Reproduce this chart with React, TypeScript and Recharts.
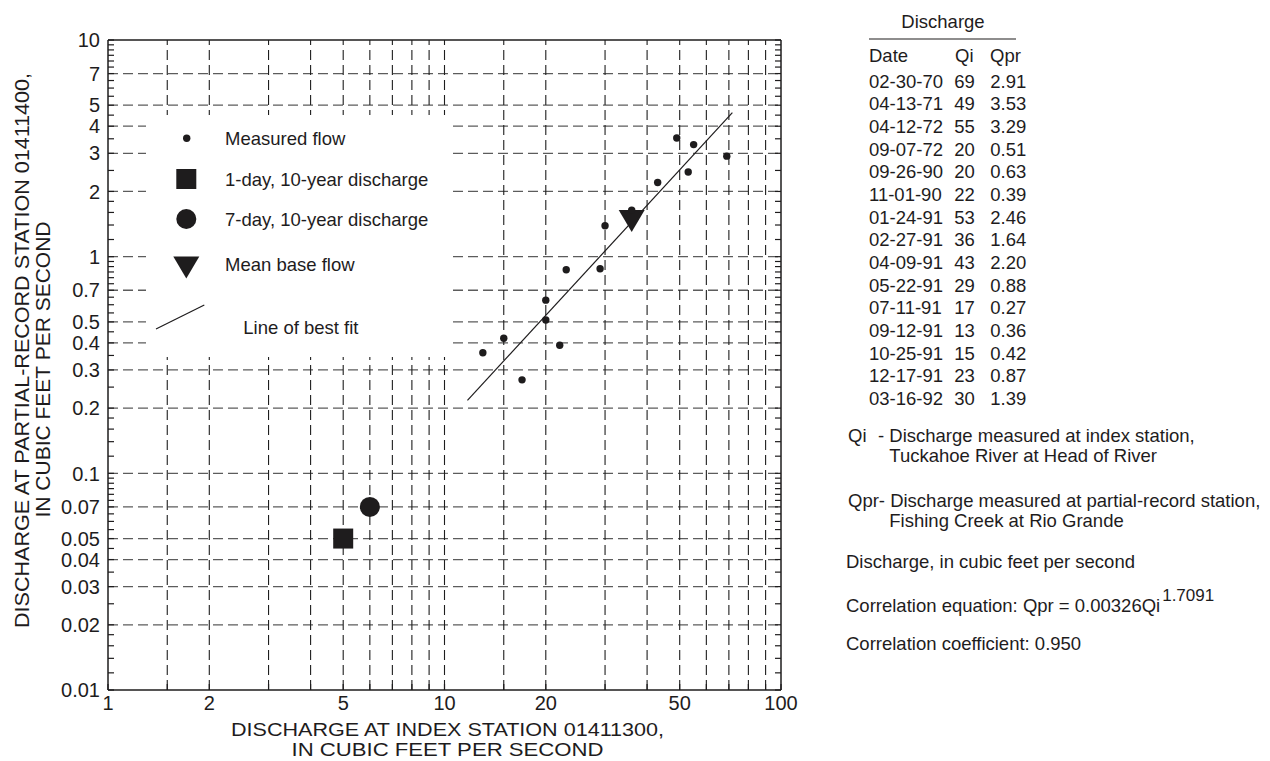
import React from 'react';
import { ScatterChart, Scatter, XAxis, YAxis, ReferenceLine, Legend } from 'recharts';

// ---------- data ----------
const dates = ['02-30-70', '04-13-71', '04-12-72', '09-07-72', '09-26-90', '11-01-90', '01-24-91', '02-27-91', '04-09-91', '05-22-91', '07-11-91', '09-12-91', '10-25-91', '12-17-91', '03-16-92'];
const qi = [69, 49, 55, 20, 20, 22, 53, 36, 43, 29, 17, 13, 15, 23, 30];
const qprLabels = ['2.91', '3.53', '3.29', '0.51', '0.63', '0.39', '2.46', '1.64', '2.20', '0.88', '0.27', '0.36', '0.42', '0.87', '1.39'];
const qpr = [2.91, 3.53, 3.29, 0.51, 0.63, 0.39, 2.46, 1.64, 2.2, 0.88, 0.27, 0.36, 0.42, 0.87, 1.39];

const oneDayTenYear = [{ x: 5, y: 0.05 }];
const sevenDayTenYear = [{ x: 6, y: 0.07 }];
const meanBaseFlow = [{ x: 36, y: 1.46 }];
const bestFit = [{ x: 11.7, y: 0.217 }, { x: 71.7, y: 4.62 }];

const seriesNames = ['Measured flow', '1-day, 10-year discharge', '7-day, 10-year discharge', 'Mean base flow', 'Line of best fit'];

const xLabelTicks = [1, 2, 5, 10, 20, 50, 100];
const xGridValues = [1.5, 2, 3, 4, 5, 6, 7, 8, 9, 10, 15, 20, 30, 40, 50, 60, 70, 80, 90];
const yLabelTicks = [0.01, 0.02, 0.03, 0.04, 0.05, 0.07, 0.1, 0.2, 0.3, 0.4, 0.5, 0.7, 1, 2, 3, 4, 5, 7, 10];
const yGridValues = [0.02, 0.03, 0.04, 0.05, 0.07, 0.1, 0.2, 0.3, 0.4, 0.5, 0.7, 1, 2, 3, 4, 5, 7];
const yMinorTicks = [
  0.012, 0.014, 0.016, 0.018, 0.025, 0.035, 0.045, 0.055, 0.06, 0.065, 0.075, 0.08, 0.085, 0.09, 0.095,
  0.12, 0.14, 0.16, 0.18, 0.25, 0.35, 0.45, 0.55, 0.6, 0.65, 0.75, 0.8, 0.85, 0.9, 0.95,
  1.2, 1.4, 1.6, 1.8, 2.5, 3.5, 4.5, 5.5, 6, 6.5, 7.5, 8, 8.5, 9, 9.5,
];

const measured = qi.map((x, i) => ({ x, y: qpr[i] }));
const xAllTicks = [1, ...xGridValues, 100];
const yAllTicks = [...yLabelTicks, ...yMinorTicks].sort((a, b) => a - b);

// ---------- style ----------
const FONT = '"Liberation Sans", Arial, Helvetica, sans-serif';
const INK = '#1e1c1d';
const TICK_LEN = 6;

const LeftTick = (props: any) => {
  const { x, y, payload } = props;
  const v = payload.value;
  const ax = x + 8;
  const major = yLabelTicks.includes(v);
  return (
    <g>
      <line x1={ax} x2={ax + TICK_LEN} y1={y} y2={y} stroke={INK} strokeWidth={1.2} />
      {major && (
        <text x={x} y={y} dy="0.36em" textAnchor="end" fontSize={20} fontFamily={FONT} fill={INK}>
          {String(v)}
        </text>
      )}
    </g>
  );
};

const RightTick = (props: any) => {
  const { x, y } = props;
  const ax = x - 2;
  return <line x1={ax - TICK_LEN} x2={ax} y1={y} y2={y} stroke={INK} strokeWidth={1.2} />;
};

const BottomTick = (props: any) => {
  const { x, y, payload } = props;
  const v = payload.value;
  const ay = y - 6;
  const major = xLabelTicks.includes(v);
  return (
    <g>
      <line x1={x} x2={x} y1={ay} y2={ay - TICK_LEN} stroke={INK} strokeWidth={1.2} />
      {major && (
        <text x={x} y={y} dy="0.71em" textAnchor="middle" fontSize={20} fontFamily={FONT} fill={INK}>
          {String(v)}
        </text>
      )}
    </g>
  );
};

const DotShape = (p: any) => <circle cx={p.cx} cy={p.cy} r={3.7} fill={INK} />;
const SquareShape = (p: any) => <rect x={p.cx - 10} y={p.cy - 10} width={20} height={20} fill={INK} />;
const BigCircleShape = (p: any) => <circle cx={p.cx} cy={p.cy} r={10} fill={INK} />;
const DownTriangleShape = (p: any) => (
  <polygon points={`${p.cx - 13},${p.cy - 11} ${p.cx + 13},${p.cy - 11} ${p.cx},${p.cy + 11}`} fill={INK} />
);
const NoShape = () => <g />;

const legendGlyph = (name: string) => {
  switch (name) {
    case 'Measured flow':
      return <circle cx={40.7} cy={23.3} r={3.7} fill={INK} />;
    case '1-day, 10-year discharge':
      return <rect x={30.3} y={54} width={20} height={20} fill={INK} />;
    case '7-day, 10-year discharge':
      return <circle cx={40.3} cy={104} r={10} fill={INK} />;
    case 'Mean base flow':
      return <polygon points="27.3,141.5 53.3,141.5 40.3,163.5" fill={INK} />;
    default:
      return <line x1={10} y1={214} x2={58.3} y2={190} stroke={INK} strokeWidth={1.2} />;
  }
};
const legendTextPos: Record<string, [number, number]> = {
  'Measured flow': [79, 23.3],
  '1-day, 10-year discharge': [79, 64],
  '7-day, 10-year discharge': [79, 104],
  'Mean base flow': [79, 149.3],
  'Line of best fit': [97.3, 212.7],
};

const LegendBox = (props: any) => {
  const names: string[] = (props.payload || []).map((e: any) => e.value);
  const ordered = seriesNames.filter((n) => names.includes(n));
  return (
    <svg width={302} height={242} style={{ display: 'block', background: '#fff' }}>
      {ordered.map((n) => (
        <g key={n}>
          {legendGlyph(n)}
          <text x={legendTextPos[n][0]} y={legendTextPos[n][1]} dy="0.36em" fontSize={18.5} fontFamily={FONT} fill={INK}>
            {n}
          </text>
        </g>
      ))}
    </svg>
  );
};

const textProps = { fontFamily: FONT, fill: INK };

export default function App() {
  return (
    <div style={{ position: 'absolute', left: 0, top: 0, width: 1270, height: 761, background: '#fff' }}>
      <ScatterChart width={1270} height={761} margin={{ top: 40, right: 479, bottom: 41, left: 48 }}>
        <XAxis
          type="number"
          dataKey="x"
          scale="log"
          domain={[1, 100]}
          ticks={xAllTicks}
          interval={0}
          allowDataOverflow
          tickSize={0}
          tickMargin={6}
          height={30}
          tick={BottomTick}
          axisLine={{ stroke: INK, strokeWidth: 1.5 }}
        />
        <YAxis
          type="number"
          dataKey="y"
          scale="log"
          domain={[0.01, 10]}
          ticks={yAllTicks}
          interval={0}
          allowDataOverflow
          tickSize={0}
          tickMargin={8}
          width={60}
          tick={LeftTick}
          axisLine={{ stroke: INK, strokeWidth: 1.5 }}
        />
        <YAxis
          yAxisId="right"
          orientation="right"
          type="number"
          dataKey="y"
          scale="log"
          domain={[0.01, 10]}
          ticks={yAllTicks}
          interval={0}
          allowDataOverflow
          tickSize={0}
          tickMargin={2}
          width={10}
          tick={RightTick}
          axisLine={{ stroke: INK, strokeWidth: 1.5 }}
        />
        {yGridValues.map((v) => (
          <ReferenceLine key={'h' + v} y={v} stroke="#5c5c5c" strokeWidth={1.3} strokeDasharray="10 5" />
        ))}
        {xGridValues.map((v) => (
          <ReferenceLine key={'v' + v} x={v} stroke="#1e1e1e" strokeWidth={1.1} strokeDasharray="10 5" />
        ))}
        <ReferenceLine y={10} stroke={INK} strokeWidth={1.5} />
        <Legend
          layout="vertical"
          align="center"
          verticalAlign="middle"
          wrapperStyle={{ left: 146, top: 115, width: 302, height: 242, background: '#fff' }}
          content={(p: any) => <LegendBox {...p} />}
        />
        <Scatter name="Line of best fit" data={bestFit} line={{ stroke: INK, strokeWidth: 1.2 }} shape={NoShape} fill={INK} isAnimationActive={false} />
        <Scatter name="Mean base flow" data={meanBaseFlow} shape={DownTriangleShape} fill={INK} isAnimationActive={false} />
        <Scatter name="Measured flow" data={measured} shape={DotShape} fill={INK} isAnimationActive={false} />
        <Scatter name="1-day, 10-year discharge" data={oneDayTenYear} shape={SquareShape} fill={INK} isAnimationActive={false} />
        <Scatter name="7-day, 10-year discharge" data={sevenDayTenYear} shape={BigCircleShape} fill={INK} isAnimationActive={false} />
      </ScatterChart>

      <svg width={1270} height={761} style={{ position: 'absolute', left: 0, top: 0, pointerEvents: 'none' }}>
        {/* axis titles */}
        <text transform="translate(22,350.5) rotate(-90)" textAnchor="middle" dy="0.36em" fontSize={20} textLength={555} lengthAdjust="spacingAndGlyphs" {...textProps}>
          DISCHARGE AT PARTIAL-RECORD STATION 01411400,
        </text>
        <text transform="translate(43,369.5) rotate(-90)" textAnchor="middle" dy="0.36em" fontSize={20} textLength={296} lengthAdjust="spacingAndGlyphs" {...textProps}>
          IN CUBIC FEET PER SECOND
        </text>
        <text x={447.5} y={729} textAnchor="middle" dy="0.36em" fontSize={19} textLength={433} lengthAdjust="spacingAndGlyphs" {...textProps}>
          DISCHARGE AT INDEX STATION 01411300,
        </text>
        <text x={447.5} y={749} textAnchor="middle" dy="0.36em" fontSize={19} textLength={312} lengthAdjust="spacingAndGlyphs" {...textProps}>
          IN CUBIC FEET PER SECOND
        </text>

        {/* table */}
        <text x={943} y={21} textAnchor="middle" dy="0.36em" fontSize={18.5} {...textProps}>Discharge</text>
        <line x1={869} x2={1016} y1={39} y2={39} stroke={INK} strokeWidth={1.2} />
        <text x={869} y={55.7} dy="0.36em" fontSize={18.5} {...textProps}>Date</text>
        <text x={955} y={55.7} dy="0.36em" fontSize={18.5} {...textProps}>Qi</text>
        <text x={990} y={55.7} dy="0.36em" fontSize={18.5} {...textProps}>Qpr</text>
        {dates.map((d, i) => (
          <g key={d + i}>
            <text x={869} y={81 + i * 22.67} dy="0.36em" fontSize={18.5} {...textProps}>{d}</text>
            <text x={954.3} y={81 + i * 22.67} dy="0.36em" fontSize={18.5} {...textProps}>{String(qi[i])}</text>
            <text x={990.3} y={81 + i * 22.67} dy="0.36em" fontSize={18.5} {...textProps}>{qprLabels[i]}</text>
          </g>
        ))}

        {/* notes */}
        <text x={848} y={435} dy="0.36em" fontSize={18.5} {...textProps}>Qi</text>
        <text x={878} y={435} dy="0.36em" fontSize={18.5} {...textProps}>- Discharge measured at index station,</text>
        <text x={889.3} y={455.7} dy="0.36em" fontSize={18.5} {...textProps}>Tuckahoe River at Head of River</text>
        <text x={848} y={500} dy="0.36em" fontSize={18.5} {...textProps}>Qpr- Discharge measured at partial-record station,</text>
        <text x={889.3} y={520} dy="0.36em" fontSize={18.5} {...textProps}>Fishing Creek at Rio Grande</text>
        <text x={846} y={561.7} dy="0.36em" fontSize={18.5} {...textProps}>Discharge, in cubic feet per second</text>
        <text x={846} y={605.7} dy="0.36em" fontSize={18.5} {...textProps}>
          Correlation equation: Qpr = 0.00326Qi
          <tspan dx={2} dy={-11} fontSize={17}>1.7091</tspan>
        </text>
        <text x={846} y={643.3} dy="0.36em" fontSize={18.5} {...textProps}>Correlation coefficient: 0.950</text>
      </svg>
    </div>
  );
}
